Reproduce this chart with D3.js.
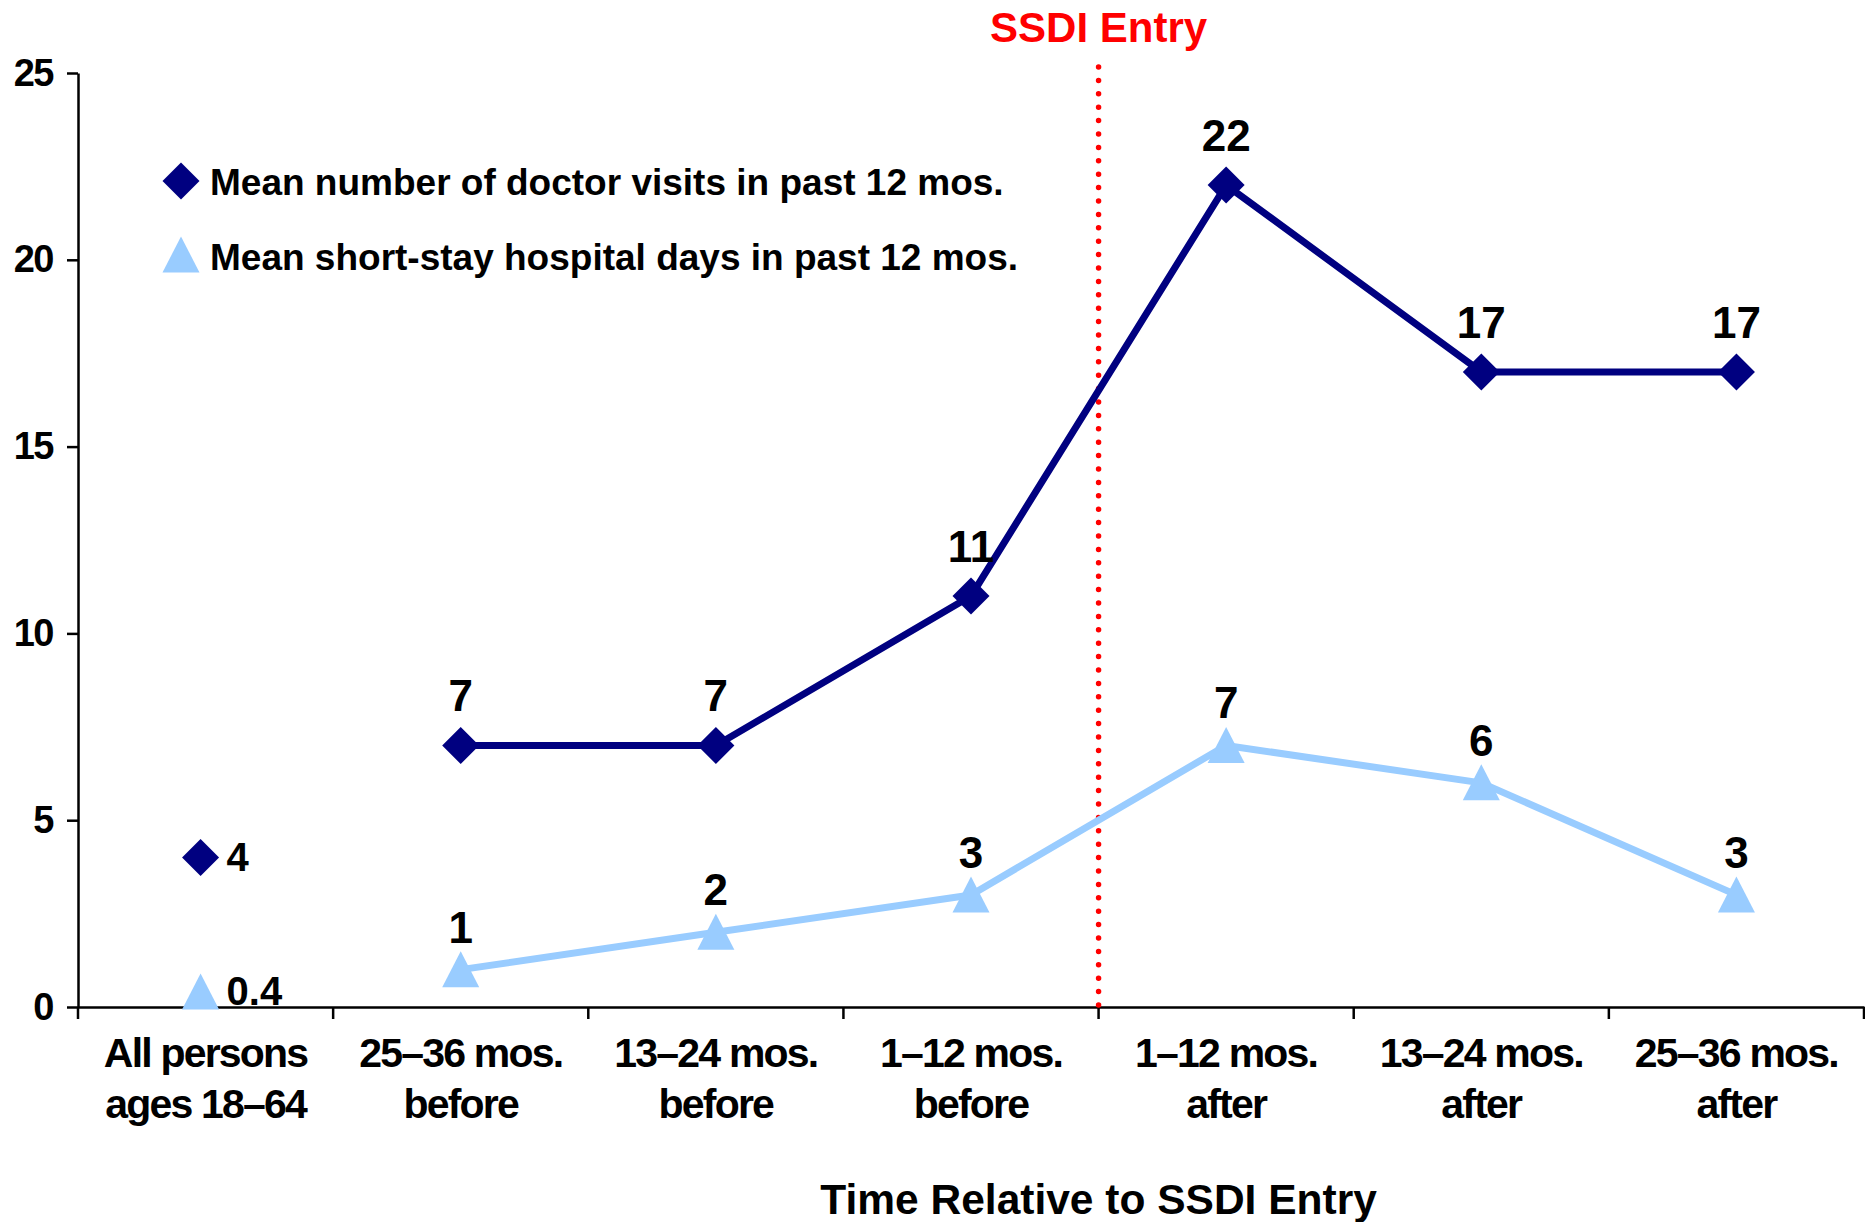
<!DOCTYPE html>
<html>
<head>
<meta charset="utf-8">
<script src="https://cdn.jsdelivr.net/npm/d3@7"></script>
<style>
  body { margin: 0; background: #fff; }
  text { font-family: "Liberation Sans", Arial, sans-serif; font-weight: bold; }
</style>
</head>
<body>
<script>
    // data
    const categories = ["All persons ages 18–64", "25–36 mos. before", "13–24 mos. before", "1–12 mos. before",
        "1–12 mos. after", "13–24 mos. after", "25–36 mos. after"];
    const categoryLines = [["All persons", "ages 18–64"], ["25–36 mos.", "before"], ["13–24 mos.", "before"],
        ["1–12 mos.", "before"], ["1–12 mos.", "after"], ["13–24 mos.", "after"], ["25–36 mos.", "after"]];
    const doctorVisits = [4, 7, 7, 11, 22, 17, 17];
    const hospitalDays = [0.4, 1, 2, 3, 7, 6, 3];
    const yTicks = [0, 5, 10, 15, 20, 25];
    const seriesNames = ["Mean number of doctor visits in past 12 mos.", "Mean short-stay hospital days in past 12 mos."];
    const entryIndex = 4; // SSDI entry sits between "before" and "after"

    const w = 1865;
    const h = 1222;
    const navy = "#000080";
    const lightBlue = "#99CCFF";

    const svg = d3.select("body")
        .append("svg")
        .attr("width", w)
        .attr("height", h)

    const x = d3.scaleBand()
        .domain(categories)
        .range([78, 1864])
    const y = d3.scaleLinear()
        .domain([0, 25])
        .range([1007, 73])

    const cx = (i) => x(categories[i]) + x.bandwidth() / 2

    // y axis
    const yAxis = svg.append("g")
        .attr("transform", "translate(78,0)")
        .call(d3.axisLeft(y).tickValues(yTicks).tickSize(11).tickSizeOuter(0).tickPadding(14))
    yAxis.selectAll("path, line").attr("stroke", "#000").attr("stroke-width", 2.5)
    yAxis.selectAll("text")
        .attr("font-size", 38)
        .attr("letter-spacing", -1.5)
        .attr("fill", "#000")
        .style("font-family", "'Liberation Sans', Arial, sans-serif")
        .style("font-weight", "bold")

    // x axis: line plus ticks at band edges
    const xAxis = svg.append("g")
        .attr("transform", "translate(0," + y(0) + ")")
        .call(d3.axisBottom(x).tickSize(0).tickFormat(""))
    xAxis.select("path").attr("stroke", "#000").attr("stroke-width", 2.5)
    const edges = categories.map((c) => x(c)).concat([x.range()[1]])
    svg.selectAll(".xtick")
        .data(edges)
        .enter()
        .append("line")
        .attr("x1", (d) => d)
        .attr("x2", (d) => d)
        .attr("y1", y(0))
        .attr("y2", y(0) + 12)
        .attr("stroke", "#000")
        .attr("stroke-width", 2.5)

    svg.selectAll(".xlab")
        .data(categoryLines)
        .enter()
        .append("text")
        .attr("text-anchor", "middle")
        .attr("font-size", 41)
        .attr("letter-spacing", -1.8)
        .attr("fill", "#000")
        .each(function (d, i) {
            d3.select(this).selectAll("tspan")
                .data(d)
                .enter()
                .append("tspan")
                .attr("x", cx(i))
                .attr("y", (t, j) => 1067 + j * 51)
                .text((t) => t)
        })

    // SSDI entry marker
    const entryX = x(categories[entryIndex])

    svg.append("text")
        .attr("x", entryX)
        .attr("y", 1214)
        .attr("text-anchor", "middle")
        .attr("font-size", 42.5)
        .text("Time Relative to SSDI Entry")

    svg.append("line")
        .attr("x1", entryX)
        .attr("x2", entryX)
        .attr("y1", 67)
        .attr("y2", y(0))
        .attr("stroke", "#FF0000")
        .attr("stroke-width", 5.5)
        .attr("stroke-linecap", "round")
        .attr("stroke-dasharray", "0 13.4")
    svg.append("text")
        .attr("x", entryX)
        .attr("y", 42)
        .attr("text-anchor", "middle")
        .attr("font-size", 42)
        .attr("fill", "#FF0000")
        .text("SSDI Entry")

    // marker shapes
    const diamond = (px, py, r) => `M${px},${py - r}L${px + r},${py}L${px},${py + r}L${px - r},${py}Z`
    const triangle = (px, py, s) => `M${px},${py - s / 2}L${px + s / 2},${py + s / 2 - 1}L${px - s / 2},${py + s / 2 - 1}Z`

    const line = d3.line()
        .x((d) => cx(d.i))
        .y((d) => y(d.v))

    function drawSeries(values, color, marker, labelOffset) {
        const pts = values.map((v, i) => ({ v: v, i: i }))
        const connected = pts.slice(1)
        svg.append("path")
            .datum(connected)
            .attr("d", line)
            .attr("fill", "none")
            .attr("stroke", color)
            .attr("stroke-width", 7)
            .attr("stroke-linejoin", "round")

        svg.selectAll(null)
            .data(pts)
            .enter()
            .append("path")
            .attr("d", (d) => marker(d.i === 0 ? cx(0) - 5 : cx(d.i), y(d.v)))
            .attr("fill", color)

        svg.selectAll(null)
            .data(pts)
            .enter()
            .append("text")
            .attr("x", (d) => d.i === 0 ? cx(0) + 21 : cx(d.i))
            .attr("y", (d) => d.i === 0 ? y(d.v) + 13 : y(d.v) - labelOffset)
            .attr("text-anchor", (d) => d.i === 0 ? "start" : "middle")
            .attr("font-size", (d) => d.i === 0 ? 40 : 44)
            .attr("fill", "#000")
            .text((d) => d.v)
    }

    drawSeries(doctorVisits, navy, (px, py) => diamond(px, py, 18.5), 34)
    drawSeries(hospitalDays, lightBlue, (px, py) => triangle(px, py, 37), 27)

    // legend
    const legend = svg.append("g")
    legend.append("path").attr("d", diamond(181, 181, 18.5)).attr("fill", navy)
    legend.append("path").attr("d", triangle(181, 255, 37)).attr("fill", lightBlue)
    legend.selectAll("text")
        .data(seriesNames)
        .enter()
        .append("text")
        .attr("x", 210)
        .attr("y", (d, i) => 195 + i * 75)
        .attr("font-size", 37)
        .attr("fill", "#000")
        .text((d) => d)
</script>
</body>
</html>
